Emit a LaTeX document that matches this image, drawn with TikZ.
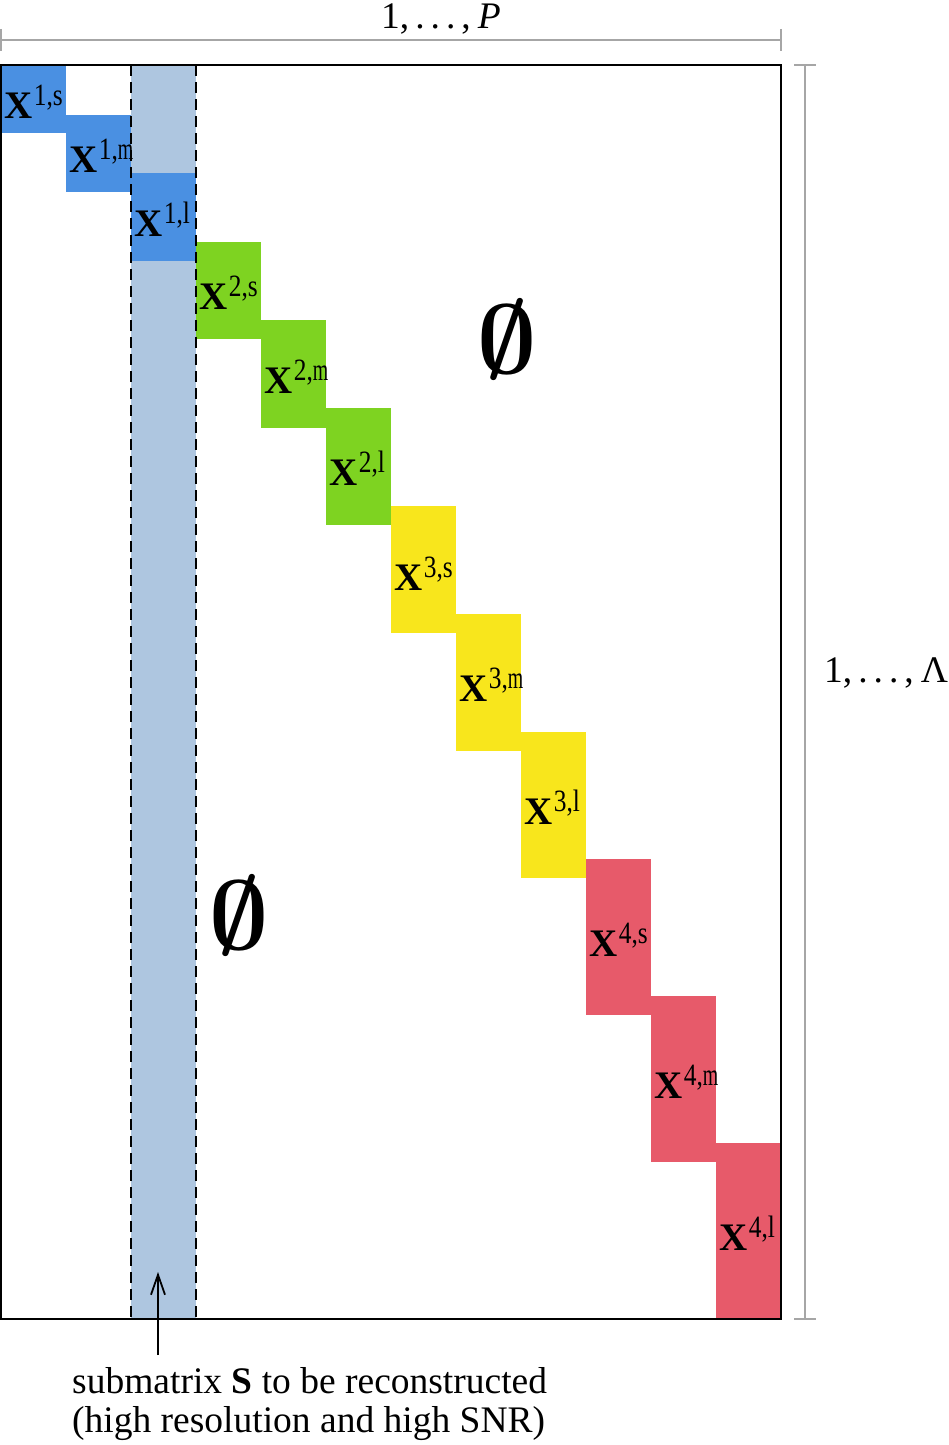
\documentclass[tikz,border=0pt]{standalone}
\usepackage{fontspec}
\setmainfont{Liberation Serif}
\usepackage{graphicx}
\usetikzlibrary{arrows.meta}
\definecolor{cblue}{HTML}{4A90E2}
\definecolor{clight}{HTML}{AEC6E0}
\definecolor{cgreen}{HTML}{7ED321}
\definecolor{cyellow}{HTML}{F8E61C}
\definecolor{cred}{HTML}{E75A6A}
\definecolor{cdim}{HTML}{A6A6A6}
\newcommand{\xlab}[2]{{\fontsize{39}{39}\selectfont\bfseries X}\kern1.5pt\raisebox{13pt}{\scalebox{0.82}[1]{\fontsize{31}{31}\selectfont #1,#2}}}
\newcommand{\narrowm}{\scalebox{0.78}[1]{m}}
\newcommand{\rng}[1]{1,\kern6pt.\kern6pt.\kern6pt.\kern6pt,\kern7pt#1}
\tikzset{
  blocklabel/.style={anchor=base west, inner sep=0pt},
  dimline/.style={draw=cdim, line width=2pt},
  frameline/.style={draw=black, line width=2pt},
  colline/.style={draw=black, line width=2pt, dash pattern=on 11pt off 6pt},
  bigtext/.style={font=\fontsize{37.5}{37.5}\selectfont, inner sep=0pt},
}
\begin{document}
\begin{tikzpicture}[x=1pt,y={(0pt,-1pt)}]
\useasboundingbox (0,0) rectangle (948,1445);
% light blue column
\fill[clight] (131,65) rectangle (196,1319);
% blocks
\foreach \xa/\ya/\xb/\yb/\col in {
  1/65/66/133/cblue, 66/115/131/192/cblue, 131/173/196/261/cblue,
  196/242/261/339/cgreen, 261/320/326/428/cgreen, 326/408/391/525/cgreen,
  391/506/456/633/cyellow, 456/614/521/751/cyellow, 521/732/586/878/cyellow,
  586/859/651/1015/cred, 651/996/716/1162/cred, 716/1143/781/1319/cred}
  \fill[\col] (\xa,\ya) rectangle (\xb,\yb);
% labels
\node[blocklabel] (x1s) at (4,118) {\xlab{1}{s}};
\node[blocklabel] (x1m) at (69,172.5) {\xlab{1}{\narrowm}};
\node[blocklabel] (x1l) at (134,236) {\xlab{1}{l}};
\node[blocklabel] (x2s) at (199,309.5) {\xlab{2}{s}};
\node[blocklabel] (x2m) at (264,393) {\xlab{2}{\narrowm}};
\node[blocklabel] (x2l) at (329,485.5) {\xlab{2}{l}};
\node[blocklabel] (x3s) at (394,590) {\xlab{3}{s}};
\node[blocklabel] (x3m) at (459,701.5) {\xlab{3}{\narrowm}};
\node[blocklabel] (x3l) at (524,824) {\xlab{3}{l}};
\node[blocklabel] (x4s) at (589,956) {\xlab{4}{s}};
\node[blocklabel] (x4m) at (654,1098) {\xlab{4}{\narrowm}};
\node[blocklabel] (x4l) at (719,1250) {\xlab{4}{l}};
% dashed column borders
\draw[colline] (131,65) -- (131,1319);
\draw[colline] (196,65) -- (196,1319);
% frame
\draw[frameline] (1,65) rectangle (781,1319);
% empty sets
\node[inner sep=0pt] (e1) at (507,339) {\scalebox{10.3}[9.8]{\boldmath$\emptyset$}};
\node[inner sep=0pt] (e2) at (239,915) {\scalebox{10.3}[9.8]{\boldmath$\emptyset$}};
% dimension lines
\coordinate (tl) at (1,40);
\coordinate (tr) at (781,40);
\draw[dimline] (tl) -- (tr);
\draw[dimline] (1,29) -- (1,51);
\draw[dimline] (781,29) -- (781,51);
\node[bigtext, anchor=base] (ptop) at (441,29) {\rng{\textit{P}}};
\coordinate (rt) at (805,65);
\coordinate (rb) at (805,1319);
\draw[dimline] (rt) -- (rb);
\draw[dimline] (794,65) -- (816,65);
\draw[dimline] (794,1319) -- (816,1319);
\node[bigtext, anchor=base west] (lam) at (824,682) {\rng{Λ}};
% arrow and caption
\coordinate (abot) at (158,1355);
\coordinate (atip) at (158,1272);
\draw[line width=1.8pt, -{Straight Barb[length=20pt,width=14pt,line width=1.8pt]}] (abot) -- (atip);
\node[bigtext, anchor=base west] (cap1) at (72,1393) {submatrix \textbf{S} to be reconstructed};
\node[bigtext, anchor=base west] (cap2) at (72,1432) {(high resolution and high SNR)};
\end{tikzpicture}
\end{document}
